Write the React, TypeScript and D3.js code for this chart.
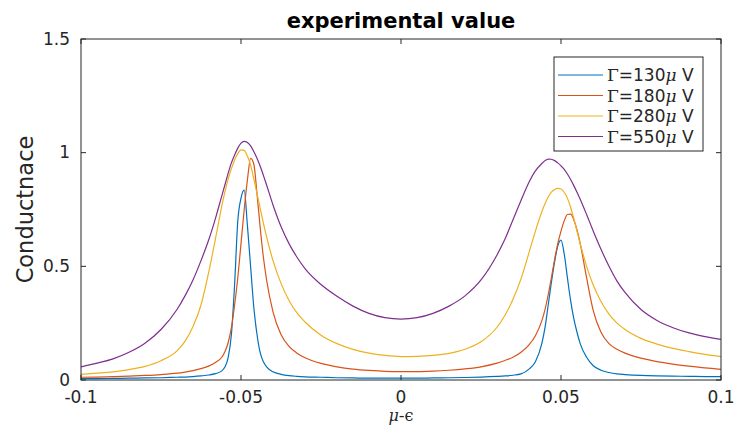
import React from "react";
import * as d3 from "d3";

// Sample positions along μ-ϵ (denser around the two resonances)
const xs = [
  -0.1, -0.095, -0.09, -0.085, -0.08, -0.075, -0.07, -0.0675, -0.065, -0.0625,
  -0.06, -0.058, -0.056, -0.055, -0.054, -0.053, -0.052, -0.051, -0.05, -0.049,
  -0.048, -0.047, -0.046, -0.045, -0.044, -0.043, -0.042, -0.04, -0.0375, -0.035,
  -0.0325, -0.03, -0.025, -0.02, -0.015, -0.01, -0.005, 0, 0.005, 0.01,
  0.015, 0.02, 0.025, 0.03, 0.0325, 0.035, 0.0375, 0.04, 0.042, 0.044,
  0.045, 0.046, 0.047, 0.048, 0.049, 0.05, 0.051, 0.052, 0.053, 0.054,
  0.055, 0.056, 0.058, 0.06, 0.0625, 0.065, 0.0675, 0.07, 0.075, 0.08,
  0.085, 0.09, 0.095, 0.1,
];

// Γ = 130 μV
const g130 = [
  0.006, 0.006, 0.007, 0.008, 0.009, 0.01, 0.012, 0.013, 0.015, 0.018,
  0.022, 0.028, 0.04, 0.058, 0.1, 0.2, 0.42, 0.7, 0.8, 0.835,
  0.68, 0.5, 0.32, 0.2, 0.12, 0.08, 0.058, 0.036, 0.025, 0.019,
  0.016, 0.014, 0.012, 0.01, 0.009, 0.008, 0.008, 0.008, 0.008, 0.009,
  0.01, 0.011, 0.013, 0.016, 0.018, 0.021, 0.027, 0.048, 0.08, 0.16,
  0.23, 0.33, 0.43, 0.52, 0.59, 0.615, 0.555, 0.45, 0.35, 0.27,
  0.21, 0.16, 0.1, 0.064, 0.043, 0.033, 0.027, 0.024, 0.02, 0.018,
  0.017, 0.016, 0.015, 0.015,
];

// Γ = 180 μV
const g180 = [
  0.012, 0.013, 0.015, 0.017, 0.02, 0.024, 0.03, 0.035, 0.041, 0.05,
  0.062, 0.077, 0.1, 0.125, 0.165, 0.23, 0.33, 0.45, 0.6, 0.75,
  0.88, 0.975, 0.95, 0.82, 0.67, 0.54, 0.44, 0.3, 0.2, 0.148,
  0.118, 0.098, 0.073, 0.058, 0.048, 0.042, 0.038, 0.037, 0.037, 0.039,
  0.043, 0.049, 0.058, 0.074, 0.086, 0.1, 0.122, 0.155, 0.195, 0.26,
  0.31, 0.375, 0.45, 0.53, 0.6, 0.655, 0.7, 0.728, 0.73, 0.705,
  0.66, 0.6, 0.45, 0.31, 0.21, 0.16, 0.135, 0.118, 0.096, 0.081,
  0.07, 0.061, 0.053, 0.047,
];

// Γ = 280 μV
const g280 = [
  0.025, 0.03, 0.036, 0.046, 0.06, 0.085, 0.128, 0.17, 0.235, 0.33,
  0.48, 0.62, 0.765, 0.83, 0.885, 0.93, 0.968, 0.996, 1.012, 1.01,
  0.985, 0.945, 0.885, 0.82, 0.755, 0.69, 0.63, 0.525, 0.425, 0.35,
  0.295, 0.255, 0.197, 0.16, 0.135, 0.118, 0.108, 0.103, 0.104, 0.108,
  0.117, 0.135, 0.168, 0.232, 0.285, 0.355, 0.445, 0.56, 0.655, 0.74,
  0.775, 0.805, 0.826, 0.838, 0.843, 0.84, 0.826, 0.8, 0.76, 0.71,
  0.655, 0.6, 0.5, 0.42, 0.345, 0.29, 0.25, 0.222, 0.183, 0.158,
  0.139, 0.125, 0.113, 0.103,
];

// Γ = 550 μV
const g550 = [
  0.058, 0.074, 0.093, 0.122, 0.162, 0.222, 0.31, 0.37, 0.44, 0.525,
  0.62, 0.71, 0.81, 0.86, 0.91, 0.955, 0.99, 1.02, 1.042, 1.05,
  1.045, 1.03, 1.005, 0.975, 0.94, 0.9, 0.858, 0.77, 0.675, 0.6,
  0.54, 0.49, 0.42, 0.368, 0.325, 0.293, 0.274, 0.268, 0.274, 0.293,
  0.325, 0.37, 0.44, 0.55, 0.62, 0.705, 0.79, 0.87, 0.92, 0.952,
  0.965, 0.972, 0.971, 0.965, 0.955, 0.942, 0.926, 0.906, 0.882, 0.855,
  0.826, 0.795, 0.728, 0.658, 0.575, 0.5, 0.435, 0.385, 0.31, 0.262,
  0.23, 0.207, 0.191, 0.179,
];

const seriesLabels = ["130", "180", "280", "550"];
const seriesValues = [g130, g180, g280, g550];
const seriesColors = ["#0072BD", "#D95319", "#EDB120", "#7E2F8E"];

const xTicks = [-0.1, -0.05, 0, 0.05, 0.1];
const yTicks = [0, 0.5, 1, 1.5];

const W = 739;
const H = 442;
const margin = { left: 81, right: 18, top: 39, bottom: 62 };
const axisColor = "#262626";
const font = "'DejaVu Sans', sans-serif";
const serif = "'DejaVu Serif', serif";

export default function App() {
  const x = d3
    .scaleLinear()
    .domain([-0.1, 0.1])
    .range([margin.left, W - margin.right]);
  const y = d3
    .scaleLinear()
    .domain([0, 1.5])
    .range([H - margin.bottom, margin.top]);

  const line = d3
    .line<number>()
    .x((_, i) => x(xs[i]))
    .y((d) => y(d))
    .curve(d3.curveMonotoneX);

  const [x0, x1] = x.range();
  const [y0, y1] = y.range();
  const tickLen = 5;

  const legendX = 554;
  const legendY = 57;
  const legendW = 149;
  const legendH = 94;
  const rowH = 20.5;

  return (
    <svg
      width={W}
      height={H}
      style={{ position: "absolute", left: 0, top: 0, background: "#fff" }}
      fontFamily={font}
    >
      <defs>
        <clipPath id="plotClip">
          <rect x={x0} y={y1} width={x1 - x0} height={y0 - y1} />
        </clipPath>
      </defs>
      <rect x={0} y={0} width={W} height={H} fill="#fff" />

      {/* conductance curves */}
      <g clipPath="url(#plotClip)">
        {seriesValues.map((vals, k) => (
          <path
            key={k}
            d={line(vals) ?? ""}
            fill="none"
            stroke={seriesColors[k]}
            strokeWidth={1.2}
            strokeLinejoin="round"
          />
        ))}
      </g>

      {/* box */}
      <rect
        x={x0}
        y={y1}
        width={x1 - x0}
        height={y0 - y1}
        fill="none"
        stroke={axisColor}
        strokeWidth={1}
      />

      {/* x ticks (inward, bottom and top) */}
      {xTicks.map((t) => (
        <g key={`xt${t}`}>
          <line x1={x(t)} x2={x(t)} y1={y0} y2={y0 - tickLen} stroke={axisColor} />
          <line x1={x(t)} x2={x(t)} y1={y1} y2={y1 + tickLen} stroke={axisColor} />
          <text
            x={x(t)}
            y={y0 + 23}
            textAnchor="middle"
            fontSize={17}
            fill={axisColor}
          >
            {t === 0 ? "0" : String(t)}
          </text>
        </g>
      ))}

      {/* y ticks (inward, left and right) */}
      {yTicks.map((t) => (
        <g key={`yt${t}`}>
          <line x1={x0} x2={x0 + tickLen} y1={y(t)} y2={y(t)} stroke={axisColor} />
          <line x1={x1} x2={x1 - tickLen} y1={y(t)} y2={y(t)} stroke={axisColor} />
          <text
            x={x0 - 11}
            y={y(t)}
            dy="0.33em"
            textAnchor="end"
            fontSize={17}
            fill={axisColor}
          >
            {String(t)}
          </text>
        </g>
      ))}

      {/* title */}
      <text
        x={(x0 + x1) / 2}
        y={28}
        textAnchor="middle"
        fontSize={21}
        fontWeight="bold"
        fill="#000"
      >
        experimental value
      </text>

      {/* axis labels */}
      <text
        transform={`translate(33, ${(y0 + y1) / 2}) rotate(-90)`}
        textAnchor="middle"
        fontSize={22.5}
        fill={axisColor}
      >
        Conductnace
      </text>
      <text
        x={(x0 + x1) / 2}
        y={421}
        textAnchor="middle"
        fontSize={16}
        fill={axisColor}
      >
        <tspan fontFamily={serif} fontStyle="italic">μ</tspan>
        <tspan>-</tspan>
        <tspan fontFamily={serif}>ϵ</tspan>
      </text>

      {/* legend */}
      <rect
        x={legendX}
        y={legendY}
        width={legendW}
        height={legendH}
        fill="#fff"
        stroke={axisColor}
        strokeWidth={1}
      />
      {seriesLabels.map((lab, k) => {
        const cy = legendY + 18 + k * rowH;
        return (
          <g key={`lg${k}`}>
            <line
              x1={legendX + 4}
              x2={legendX + 49}
              y1={cy}
              y2={cy}
              stroke={seriesColors[k]}
              strokeWidth={1.2}
            />
            <text
              x={legendX + 53}
              y={cy}
              dy="0.36em"
              fontSize={17}
              fill={axisColor}
            >
              <tspan fontFamily={serif}>Γ</tspan>
              <tspan>={lab}</tspan>
              <tspan fontFamily={serif} fontStyle="italic">μ</tspan>
              <tspan> V</tspan>
            </text>
          </g>
        );
      })}
    </svg>
  );
}
